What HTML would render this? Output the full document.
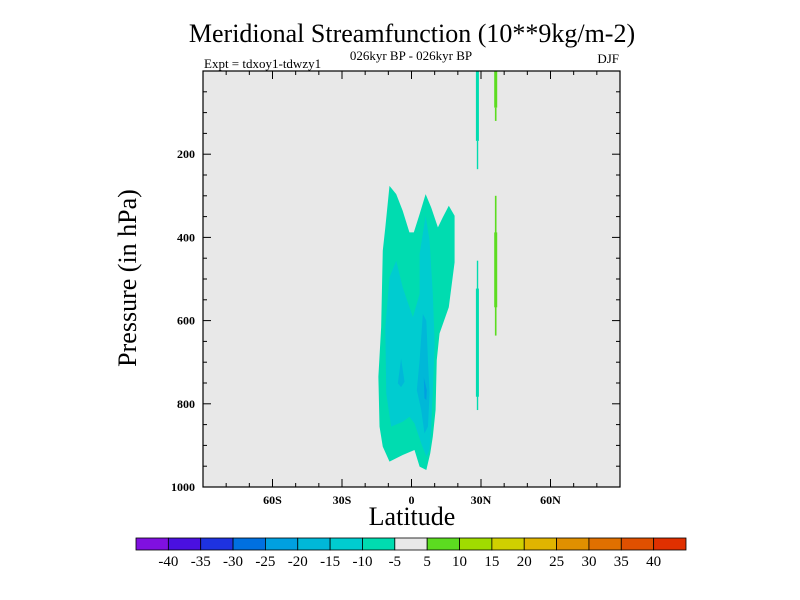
<!DOCTYPE html>
<html><head><meta charset="utf-8"><style>
body{margin:0;background:#fff}
svg{display:block;font-family:"Liberation Serif",serif}
</style></head><body>
<svg id="c" width="800" height="600" xmlns="http://www.w3.org/2000/svg">
<text x="412" y="42" font-size="26" text-anchor="middle">Meridional Streamfunction (10**9kg/m-2)</text>
<text x="411" y="60" font-size="13" text-anchor="middle">026kyr BP - 026kyr BP</text>
<text x="204" y="68" font-size="13">Expt = tdxoy1-tdwzy1</text>
<text x="619" y="63" font-size="13" text-anchor="end">DJF</text>
<text transform="translate(136,278) rotate(-90)" font-size="26" text-anchor="middle">Pressure (in hPa)</text>
<text x="412" y="525" font-size="26" text-anchor="middle">Latitude</text>
<g id="plot"></g>
<g id="cbar"></g>
</svg>
<script>
const levels=[-40,-35,-30,-25,-20,-15,-10,-5,5,10,15,20,25,30,35,40];
const colors=["#8010e0","#4a10e0","#1e32e0","#0070e0","#00a0e0","#00b8d8","#00ccd0","#00dcb0","#e8e8e8","#5cdc20","#a0dc00","#d0d000","#e0b400","#e09000","#e07000","#e05000","#e03000"];
const xTicks=[-60,-30,0,30,60];
const xTickLabels=["60S","30S","0","30N","60N"];
const yTicks=[200,400,600,800,1000];
const band10=[[-9.5,276],[-6.6,296],[-3.8,336],[-0.9,388],[1.0,388],[3.5,344],[6.1,296],[8.5,328],[11.4,376],[13.5,352],[16.1,324],[18.6,348],[18.6,460],[16.1,568],[12.1,631],[10.9,695],[10.4,815],[9.2,879],[8.1,919],[6.4,959],[3.5,951],[1.3,911],[-3.8,923],[-9.5,939],[-12.4,903],[-13.8,855],[-14.3,735],[-13.1,616],[-12.4,432],[-11.3,376]];
const band15=[[-9.5,496],[-6.6,456],[-3.8,520],[0.6,592],[3.5,536],[3.5,440],[6.1,348],[7.8,408],[9.2,536],[10.0,656],[9.2,775],[8.5,855],[7.8,911],[6.4,927],[4.2,895],[1.3,847],[-0.9,831],[-3.8,843],[-8.8,855],[-10.9,775],[-11.3,616]];
const band20a=[[4.9,584],[6.4,600],[7.1,695],[7.8,775],[7.1,855],[5.6,871],[4.2,815],[2.3,767],[3.5,695]];
const band20b=[[-4.5,691],[-3.0,747],[-4.5,760],[-5.9,751]];
const band25=[[5.3,736],[6.6,767],[6.4,791],[5.6,787]];
const streaks=[[27.8,29.1,0,168,"#00dcb0"],[28.2,28.8,168,236,"#00dcb0"],[28.2,28.8,456,815,"#00dcb0"],[27.8,29.1,523,783,"#00dcb0"],[35.7,37.0,0,88,"#5cdc20"],[36.0,36.7,88,120,"#5cdc20"],[36.0,36.7,300,636,"#5cdc20"],[35.7,37.0,388,568,"#5cdc20"]];
const X0=203,X1=620,Y0=71,Y1=487;
const sx=v=>X0+(v+90)/180*(X1-X0);
const sy=p=>Y0+p/1000*(Y1-Y0);
const NS="http://www.w3.org/2000/svg";
function mk(t,a,parent){const e=document.createElementNS(NS,t);for(const k in a)e.setAttribute(k,a[k]);parent.appendChild(e);return e;}
const g=document.getElementById('plot');
let bg=mk('rect',{x:X0,y:Y0,width:X1-X0,height:Y1-Y0,fill:"#e8e8e8"},g);


const polys=[[band10,colors[7],'contour-minus5'],[band15,colors[6],'contour-minus10'],[band20a,colors[5],'contour-minus15-a'],[band20b,colors[5],'contour-minus15-b'],[band25,colors[4],'contour-minus20']];
polys.forEach(([pts,c,n])=>{
 const e=mk('polygon',{points:pts.map(p=>sx(p[0])+','+sy(p[1])).join(' '),fill:c},g);
 
 
});
streaks.forEach(s=>{
 const e=mk('rect',{x:sx(s[0]),y:sy(s[2]),width:sx(s[1])-sx(s[0]),height:sy(s[3])-sy(s[2]),fill:s[4]},g);
 
 
});
let fr=mk('rect',{x:X0,y:Y0,width:X1-X0,height:Y1-Y0,fill:"none",stroke:"#000","stroke-width":1.2},g);


for(let v=-80;v<=80;v+=10){const L=v%30===0?8:4;
 mk('line',{x1:sx(v),x2:sx(v),y1:Y1,y2:Y1-L,stroke:"#000"},g);
 mk('line',{x1:sx(v),x2:sx(v),y1:Y0,y2:Y0+L,stroke:"#000"},g);}
for(let p=50;p<1000;p+=50){const L=p%200===0?8:4;
 mk('line',{x1:X0,x2:X0+L,y1:sy(p),y2:sy(p),stroke:"#000"},g);
 mk('line',{x1:X1,x2:X1-L,y1:sy(p),y2:sy(p),stroke:"#000"},g);}
xTicks.forEach((v,i)=>{const t=mk('text',{x:sx(v),y:Y1+17,"font-size":12,"text-anchor":"middle","font-weight":"bold"},g);t.textContent=xTickLabels[i];
 
 });
yTicks.forEach(p=>{const t=mk('text',{x:X0-8,y:sy(p)+4,"font-size":12,"text-anchor":"end","font-weight":"bold"},g);t.textContent=p;
 
 });
const cb=document.getElementById('cbar');
const CX0=136,CX1=686,CY=538,CH=12,w=(CX1-CX0)/colors.length;
colors.forEach((c,i)=>{const r=mk('rect',{x:CX0+i*w,y:CY,width:w,height:CH,fill:c,stroke:"#000","stroke-width":0.8},cb);
 
 });
levels.forEach((l,i)=>{const t=mk('text',{x:CX0+(i+1)*w,y:CY+CH+16,"font-size":15,"text-anchor":"middle"},cb);t.textContent=l;
 
 });
</script>
</body></html>
